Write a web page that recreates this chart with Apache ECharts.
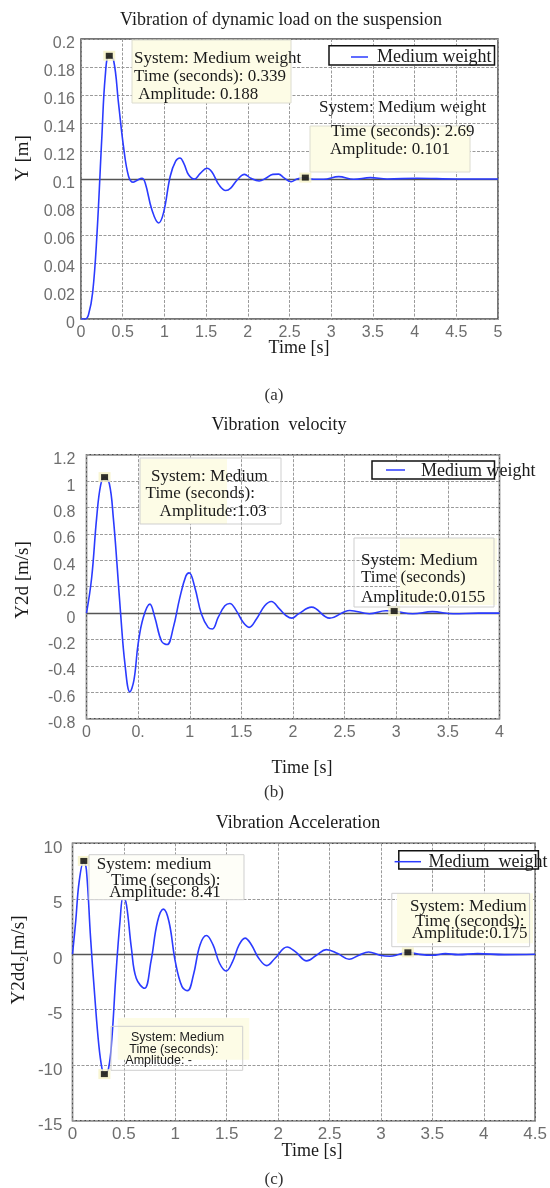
<!DOCTYPE html>
<html><head><meta charset="utf-8">
<script src="https://cdn.jsdelivr.net/npm/echarts@6/dist/echarts.min.js"></script>
<style>html,body{margin:0;padding:0;background:#fff}#c{width:550px;height:1188px}</style>
</head><body><div id="c"></div><script>
const seriesName = 'Medium weight';

// (a) displacement
const timeA = [0, 0.05, 0.09, 0.14, 0.19, 0.25, 0.29, 0.335, 0.39, 0.45, 0.51, 0.57, 0.625, 0.67, 0.73, 0.77, 0.85, 0.93, 0.99, 1.07, 1.135, 1.186, 1.234, 1.29, 1.36, 1.43, 1.51, 1.57, 1.655, 1.735, 1.795, 1.875, 1.96, 2.036, 2.136, 2.216, 2.3, 2.37, 2.43, 2.52, 2.59, 2.69, 2.79, 2.91, 3.09, 3.27, 3.47, 3.67, 4.03, 4.5, 5.0];
const ampA = [0, 0, 0.003, 0.019, 0.059, 0.13, 0.173, 0.188, 0.185, 0.154, 0.123, 0.102, 0.0977, 0.099, 0.1005, 0.0972, 0.078, 0.0686, 0.076, 0.102, 0.1127, 0.115, 0.111, 0.103, 0.0999, 0.104, 0.1077, 0.105, 0.0958, 0.0918, 0.0935, 0.0995, 0.1033, 0.1005, 0.0986, 0.1005, 0.1033, 0.1035, 0.101, 0.098, 0.1, 0.101, 0.0998, 0.0998, 0.1017, 0.0998, 0.101, 0.1, 0.1005, 0.1, 0.1];
const tipsA = [[0.339, 0.188], [2.69, 0.101]];
const xTicksA = ['0', '0.5', '1', '1.5', '2', '2.5', '3', '3.5', '4', '4.5', '5'];
const yTicksA = ['0', '0.02', '0.04', '0.06', '0.08', '0.1', '0.12', '0.14', '0.16', '0.18', '0.2'];

// (b) velocity
const timeB = [0, 0.05, 0.098, 0.137, 0.175, 0.221, 0.26, 0.298, 0.33, 0.372, 0.42, 0.459, 0.5, 0.55, 0.614, 0.662, 0.727, 0.781, 0.84, 0.904, 0.962, 0.994, 1.05, 1.113, 1.178, 1.22, 1.275, 1.34, 1.388, 1.452, 1.517, 1.575, 1.646, 1.726, 1.79, 1.871, 1.935, 1.99, 2.05, 2.18, 2.355, 2.55, 2.74, 2.9, 2.98, 3.16, 3.35, 3.55, 3.8, 4.0];
const velB = [0, 0.268, 0.72, 0.97, 1.03, 0.982, 0.72, 0.343, 0, -0.383, -0.597, -0.51, -0.233, -0.033, 0.068, -0.033, -0.213, -0.238, -0.112, 0.117, 0.28, 0.305, 0.192, -0.007, -0.108, -0.12, -0.033, 0.055, 0.073, 0.017, -0.07, -0.108, -0.045, 0.055, 0.088, 0.03, -0.02, -0.038, -0.008, 0.045, -0.038, 0.02, -0.005, 0.018, 0.0155, -0.005, 0.011, -0.005, 0, 0];
const tipsB = [[0.175, 1.03], [2.98, 0.0155]];
const xTicksB = ['0', '0.', '1', '1.5', '2', '2.5', '3', '3.5', '4'];
const yTicksB = ['-0.8', '-0.6', '-0.4', '-0.2', '0', '0.2', '0.4', '0.6', '0.8', '1', '1.2'];

// (c) acceleration
const timeC = [0, 0.031, 0.065, 0.11, 0.135, 0.176, 0.218, 0.256, 0.287, 0.31, 0.35, 0.383, 0.42, 0.462, 0.494, 0.525, 0.573, 0.62, 0.7, 0.763, 0.827, 0.884, 0.938, 1.0, 1.065, 1.119, 1.176, 1.24, 1.303, 1.367, 1.43, 1.494, 1.557, 1.62, 1.678, 1.741, 1.811, 1.89, 1.97, 2.087, 2.17, 2.278, 2.373, 2.468, 2.58, 2.69, 2.786, 2.88, 2.99, 3.087, 3.18, 3.262, 3.37, 3.5, 3.627, 3.75, 3.94, 4.2, 4.5];
const accC = [0, 2.95, 6.57, 8.41, 7.62, 1.45, -3.97, -8.19, -10.3, -10.8, -10.3, -7.59, -2.17, 2.95, 5.3, 4.45, 0.54, -2.17, -3.07, -0.66, 2.95, 4.07, 2.95, -0.66, -2.92, -3.28, -1.87, 0.84, 1.69, 0.84, -0.81, -1.51, -0.66, 0.84, 1.45, 0.84, -0.36, -1.02, -0.36, 0.66, 0.21, -0.6, -0.09, 0.42, 0.06, -0.45, -0.09, 0.21, -0.09, -0.18, 0, 0.175, 0, -0.09, 0.06, -0.03, 0.06, -0.03, 0];
const tipsC = [[0.11, 8.41], [3.262, 0.175], [0.31, -10.8]];
const xTicksC = ['0', '0.5', '1', '1.5', '2', '2.5', '3', '3.5', '4', '4.5'];
const yTicksC = ['-15', '-10', '-5', '0', '5', '10'];

const SERIF = '"Liberation Serif", "DejaVu Serif", serif';
const SANS = '"Liberation Sans", Arial, sans-serif';
const BLUE = '#2b3bff';
const pair = (xs, ys) => xs.map((x, i) => [x, ys[i]]);

const grids = [
  { left: 81, top: 39, width: 417, height: 280, show: true, borderColor: '#4a4a4a', borderWidth: 1.5 },
  { left: 86.5, top: 454.7, width: 413, height: 264, show: true, borderColor: '#4a4a4a', borderWidth: 1.5 },
  { left: 72.5, top: 843.3, width: 472.5, height: 277.4, show: true, borderColor: '#4a4a4a', borderWidth: 1.5 }
];
const split = { show: true, lineStyle: { color: '#9a9a9a', type: [3, 1.5], width: 1 } };
function xAx(i, max, ticks, fs, margin) {
  return { type: 'value', gridIndex: i, min: 0, max: max, interval: 0.5,
    axisLine: { show: false }, axisTick: { show: false }, splitLine: split,
    axisLabel: { color: '#6e6e6e', fontFamily: SANS, fontSize: fs, margin: margin,
      formatter: v => ticks[Math.round(v / 0.5)] ?? '' } };
}
function yAx(i, min, max, iv, ticks, fs, margin) {
  return { type: 'value', gridIndex: i, min: min, max: max, interval: iv,
    axisLine: { show: false }, axisTick: { show: false }, splitLine: split,
    axisLabel: { color: '#6e6e6e', fontFamily: SANS, fontSize: fs, margin: margin,
      rich: { d: { color: '#6e6e6e', fontFamily: SANS, fontSize: fs, padding: [10, 0, 0, 0] } },
      formatter: v => '{d|' + (ticks[Math.round((v - min) / iv)] ?? '') + '}' } };
}
function lineS(i, data, ref) {
  return { name: seriesName, type: 'line', xAxisIndex: i, yAxisIndex: i, data: data, smooth: 0.4,
    showSymbol: false, lineStyle: { color: BLUE, width: 1.6 }, itemStyle: { color: BLUE }, z: 3,
    markLine: { silent: true, symbol: 'none', label: { show: false },
      lineStyle: { color: '#555', type: 'solid', width: 1.3 }, data: [{ yAxis: ref }], z: 2 } };
}
function tipS(i, data) {
  return [
    { type: 'scatter', xAxisIndex: i, yAxisIndex: i, data: data, symbol: 'rect', symbolSize: [12, 10],
      itemStyle: { color: '#f6f2c6' }, z: 19, silent: true },
    { type: 'scatter', xAxisIndex: i, yAxisIndex: i, data: data, symbol: 'rect', symbolSize: [7, 6],
      itemStyle: { color: '#000' }, z: 20, silent: true }
  ];
}

function txt(x, y, s, font, align, extra, fill) {
  return Object.assign({ type: 'text', x: x, y: y, z: 50,
    style: { text: s, font: font, fill: fill || '#1a1a1a', align: align || 'left', textAlign: align || 'left',
      verticalAlign: 'middle', textVerticalAlign: 'middle' } }, extra || {});
}
function rect(x, y, w, h, fill, stroke, lw) {
  return { type: 'rect', z: 40, shape: { x: x, y: y, width: w, height: h },
    style: { fill: fill || 'none', stroke: stroke || 'none', lineWidth: lw || 1 } };
}
function legend(bx, by, bw, bh, lx1, lx2, ly, tx, ty, label) {
  return [
    rect(bx, by, bw, bh, '#fff', '#111', 1.5),
    { type: 'line', z: 45, shape: { x1: lx1, y1: ly, x2: lx2, y2: ly }, style: { stroke: BLUE, lineWidth: 1.5 } },
    txt(tx, ty, label, '18px ' + SERIF)
  ];
}
const F17 = '17px ' + SERIF, F18 = '18px ' + SERIF;
const YEL = '#fdfce6';

const graphics = [
  // titles
  txt(281, 20, 'Vibration of dynamic load on the suspension', F18, 'center'),
  txt(279, 425, 'Vibration  velocity', F18, 'center'),
  txt(298, 823, 'Vibration Acceleration', F18, 'center'),
  // x axis names
  txt(299, 348, 'Time [s]', F18, 'center'),
  txt(302, 768, 'Time [s]', F18, 'center'),
  txt(312, 1151, 'Time [s]', F18, 'center'),
  // captions
  txt(274, 396, '(a)', F17, 'center', null, '#333'),
  txt(274, 793, '(b)', F17, 'center', null, '#333'),
  txt(274, 1180, '(c)', F17, 'center', null, '#333'),
  // y axis names
  txt(23, 158, 'Y [m]', '19px ' + SERIF, 'center', { rotation: Math.PI / 2 }),
  txt(23, 580, 'Y2d [m/s]', '19px ' + SERIF, 'center', { rotation: Math.PI / 2 }),
  txt(19, 960, 'Y2dd\u2082[m/s]', '19px ' + SERIF, 'center', { rotation: Math.PI / 2 }),

  // legends
  ...legend(329, 45.7, 165.5, 19.3, 351, 368, 57, 377, 57, seriesName),
  ...legend(372, 461, 122.5, 18, 386, 405, 470, 421, 471.7, seriesName),
  ...legend(398.8, 850.7, 139.6, 18.3, 394.6, 421, 861.7, 428.6, 862, 'Medium  weight'),

  // datatips (a)
  rect(132, 40, 159, 63, YEL, '#dcdcd0', 1),
  txt(134, 59, 'System: Medium weight', F17),
  txt(134, 77, 'Time (seconds): 0.339', F17),
  txt(134, 95, ' Amplitude: 0.188', F17),
  txt(319, 108, 'System: Medium weight', F17),
  rect(310, 126, 160, 46, YEL, '#dcdcd0', 1),
  txt(331, 132, 'Time (seconds): 2.69', F17),
  txt(330, 150, 'Amplitude: 0.101', F17),

  // datatips (b)
  rect(140, 459, 87, 65, YEL),
  rect(140, 458, 141, 66, 'none', '#cfcfcf', 1),
  txt(151, 477, 'System: Medium', F17),
  txt(145.6, 494, 'Time (seconds):', F17),
  txt(159.6, 512, 'Amplitude:1.03', F17),
  rect(400, 538, 97, 67, YEL),
  rect(354, 538, 140, 69, 'none', '#cfcfcf', 1),
  txt(361, 561, 'System: Medium', F17),
  txt(361, 578, 'Time (seconds)', F17),
  txt(361, 598, 'Amplitude:0.0155', F17),

  // datatips (c)
  rect(89, 854.7, 155, 45, '#fefef8', '#cfcfcf', 1),
  txt(96.7, 865, 'System: medium', F17),
  txt(111, 880.7, 'Time (seconds):', F17),
  txt(109.3, 893, 'Amplitude: 8.41', F17),
  rect(397, 893.3, 136, 50, YEL),
  rect(391.8, 893.3, 137.8, 53.4, 'none', '#cfcfcf', 1),
  txt(410, 907, 'System: Medium', F17),
  txt(415, 921.7, 'Time (seconds):', F17),
  txt(411.7, 933.3, 'Amplitude:0.175', F17),
  rect(117.7, 1018, 131.6, 41.7, YEL),
  rect(111, 1026.3, 131.7, 44, 'none', '#cfcfcf', 1),
  txt(131, 1037.3, 'System: Medium', '12.5px ' + SANS),
  txt(129.3, 1050, 'Time (seconds):', '12.5px ' + SANS),
  txt(125.3, 1060.7, 'Amplitude: -', '12.5px ' + SANS)
];

const chart = echarts.init(document.getElementById('c'), null, { renderer: 'canvas', width: 550, height: 1188 });
chart.setOption({
  animation: false,
  backgroundColor: '#fff',
  grid: grids,
  xAxis: [xAx(0, 5, xTicksA, 16, 6), xAx(1, 4, xTicksB, 16, 6), xAx(2, 4.5, xTicksC, 17, 5)],
  yAxis: [yAx(0, 0, 0.2, 0.02, yTicksA, 16, 6), yAx(1, -0.8, 1.2, 0.2, yTicksB, 16, 11), yAx(2, -15, 10, 5, yTicksC, 17, 10)],
  series: [
    lineS(0, pair(timeA, ampA), 0.1), ...tipS(0, tipsA),
    lineS(1, pair(timeB, velB), 0), ...tipS(1, tipsB),
    lineS(2, pair(timeC, accC), 0), ...tipS(2, tipsC)
  ],
  graphic: { elements: graphics }
});
</script></body></html>
